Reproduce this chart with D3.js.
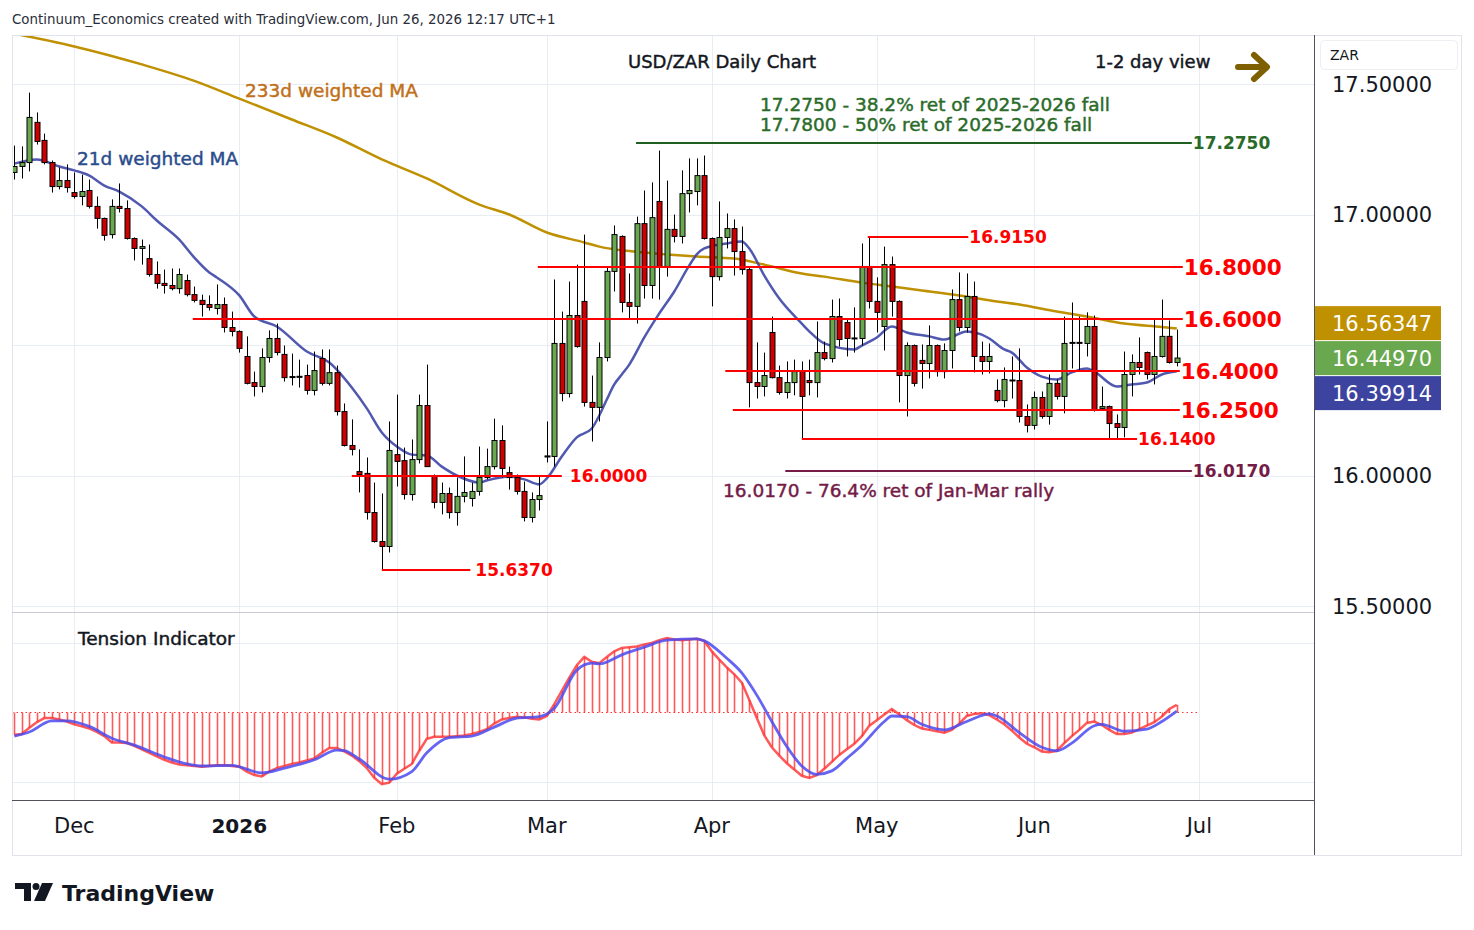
<!DOCTYPE html>
<html>
<head>
<meta charset="utf-8">
<script src="https://cdn.jsdelivr.net/npm/d3@7"></script>
<style>
    body { margin: 0; background: #ffffff; }
    text { font-family: "DejaVu Sans", sans-serif; }
    .heavy { stroke-width: 0.45px; paint-order: stroke; }
</style>
</head>
<body>
<div class="usdzar-chart"></div>
<script>
"use strict";

// trading days run from start_day, weekends and these holidays skipped
const start_day = "2025-11-19";
const end_day = "2026-07-04";
const holidays = ["2025-12-25", "2026-01-01"];

// daily candles: [open, high, low, close]
const candles = [
    [17.161,17.264,17.134,17.184],[17.184,17.261,17.138,17.199],[17.199,17.467,17.165,17.372],[17.353,17.391,17.268,17.280],
    [17.284,17.310,17.192,17.199],[17.199,17.207,17.084,17.107],[17.107,17.180,17.096,17.130],[17.130,17.192,17.084,17.103],
    // Dec
    [17.084,17.161,17.061,17.069],[17.069,17.153,17.035,17.088],[17.092,17.134,17.023,17.031],[17.031,17.069,16.946,16.985],
    [16.985,16.988,16.900,16.920],[16.923,17.058,16.908,17.031],[17.031,17.119,17.008,17.023],[17.023,17.054,16.904,16.908],
    [16.908,16.912,16.824,16.870],[16.870,16.904,16.808,16.877],[16.831,16.885,16.762,16.770],[16.770,16.820,16.716,16.736],
    [16.736,16.789,16.697,16.728],[16.728,16.793,16.709,16.716],[16.716,16.793,16.697,16.770],[16.747,16.770,16.686,16.693],
    [16.693,16.724,16.663,16.671],[16.671,16.693,16.609,16.655],[16.655,16.690,16.632,16.644],[16.640,16.732,16.617,16.655],
    [16.655,16.682,16.548,16.567],[16.567,16.628,16.533,16.552],
    // Jan
    [16.552,16.556,16.471,16.487],[16.456,16.533,16.349,16.353],[16.356,16.398,16.303,16.341],[16.341,16.487,16.318,16.452],
    [16.452,16.556,16.433,16.525],[16.525,16.582,16.460,16.471],[16.464,16.498,16.360,16.375],[16.379,16.467,16.345,16.377],
    [16.378,16.444,16.337,16.380],[16.383,16.425,16.310,16.326],[16.326,16.475,16.307,16.402],[16.448,16.483,16.345,16.353],
    [16.353,16.483,16.345,16.394],[16.394,16.421,16.230,16.245],[16.245,16.276,16.111,16.115],[16.115,16.215,16.077,16.100],
    [16.015,16.100,15.935,16.004],[16.008,16.069,15.831,15.858],[15.858,15.973,15.743,15.747],[15.747,15.931,15.637,15.728],
    [15.728,16.207,15.705,16.096],
    // Feb
    [16.080,16.310,15.958,16.054],[16.057,16.107,15.908,15.927],[15.927,16.138,15.904,16.061],[16.061,16.310,16.046,16.268],
    [16.268,16.425,16.034,16.034],[16.000,16.004,15.874,15.897],[15.897,15.973,15.851,15.931],[15.931,15.954,15.835,15.858],
    [15.858,15.992,15.808,15.920],[15.920,16.073,15.897,15.935],[15.912,15.973,15.881,15.939],[15.939,16.111,15.923,15.992],
    [15.992,16.103,15.985,16.034],[16.034,16.218,16.023,16.134],[16.134,16.192,15.992,16.027],[16.011,16.034,15.946,15.992],
    [15.992,16.004,15.927,15.939],[15.939,15.977,15.824,15.839],[15.839,15.935,15.820,15.908],[15.908,16.000,15.866,15.923],
    // Mar
    [16.071,16.207,16.050,16.075],[16.073,16.751,16.034,16.506],[16.506,16.628,16.284,16.314],[16.314,16.743,16.299,16.613],
    [16.613,16.808,16.490,16.494],[16.667,16.923,16.264,16.280],[16.280,16.383,16.130,16.261],[16.261,16.510,16.207,16.452],
    [16.452,16.797,16.437,16.782],[16.782,16.958,16.705,16.923],[16.916,16.920,16.625,16.663],[16.663,16.774,16.602,16.648],
    [16.648,16.992,16.582,16.965],[16.965,17.092,16.678,16.728],[16.728,17.123,16.678,16.988],[17.050,17.245,16.674,16.801],
    [16.801,17.130,16.762,16.943],[16.943,17.000,16.893,16.916],[16.916,17.169,16.889,17.080],[17.080,17.215,17.008,17.092],
    [17.088,17.215,17.035,17.149],[17.149,17.226,16.904,16.908],
    // Apr
    [16.908,16.912,16.648,16.762],[16.762,17.050,16.747,16.912],[16.912,17.004,16.870,16.946],[16.946,16.981,16.766,16.858],
    [16.858,16.954,16.770,16.789],[16.789,16.797,16.261,16.356],[16.356,16.510,16.295,16.341],[16.341,16.471,16.303,16.383],
    [16.548,16.609,16.372,16.375],[16.375,16.421,16.310,16.318],[16.318,16.437,16.295,16.356],[16.356,16.444,16.307,16.398],
    [16.398,16.437,16.140,16.303],[16.364,16.444,16.307,16.356],[16.356,16.590,16.299,16.471],[16.471,16.513,16.441,16.448],
    [16.448,16.674,16.433,16.609],[16.609,16.678,16.494,16.521],[16.586,16.598,16.456,16.525],[16.525,16.644,16.471,16.527],
    [16.525,16.889,16.498,16.801],[16.801,16.915,16.640,16.667],
    // May
    [16.667,16.759,16.548,16.625],[16.571,16.877,16.479,16.808],[16.808,16.839,16.609,16.667],[16.667,16.671,16.280,16.383],
    [16.383,16.510,16.226,16.498],[16.498,16.502,16.341,16.353],[16.441,16.502,16.333,16.429],[16.429,16.575,16.372,16.498],
    [16.498,16.502,16.379,16.398],[16.398,16.506,16.372,16.479],[16.479,16.713,16.410,16.674],[16.674,16.778,16.552,16.567],
    [16.567,16.774,16.548,16.686],[16.686,16.743,16.395,16.456],[16.456,16.513,16.387,16.437],[16.437,16.506,16.391,16.456],
    [16.326,16.368,16.280,16.287],[16.287,16.414,16.261,16.368],[16.364,16.456,16.295,16.366],[16.364,16.487,16.203,16.226],
    [16.226,16.272,16.165,16.192],
    // Jun
    [16.192,16.322,16.176,16.299],[16.299,16.322,16.218,16.226],[16.226,16.387,16.195,16.353],[16.353,16.368,16.291,16.303],
    [16.303,16.609,16.238,16.506],[16.508,16.663,16.410,16.510],[16.510,16.609,16.402,16.508],[16.506,16.625,16.456,16.571],
    [16.571,16.613,16.245,16.249],[16.257,16.341,16.249,16.264],[16.264,16.268,16.140,16.199],[16.199,16.234,16.140,16.184],
    [16.184,16.475,16.146,16.387],[16.387,16.464,16.303,16.433],[16.433,16.529,16.387,16.414],[16.471,16.475,16.368,16.387],
    [16.387,16.598,16.349,16.456],[16.456,16.674,16.452,16.533],[16.533,16.594,16.429,16.433],[16.433,16.559,16.418,16.450]
];

// moving averages: [bar index, value]
const wma21 = [
    [0,17.195],[3,17.211],[6,17.184],[8,17.169],[10,17.149],[12,17.111],[14,17.088],[17,17.031],[19,16.977],[22,16.904],
    [24,16.835],[26,16.778],[27,16.759],[30,16.690],[32,16.609],[35,16.571],[39,16.475],[42,16.433],[45,16.337],[47,16.257],
    [49,16.165],[51,16.111],[53,16.080],[55,16.077],[57,16.034],[59,16.000],[62,15.973],[63,15.981],[66,15.996],[68,15.985],
    [70,15.966],[71,15.989],[73,16.073],[75,16.146],[77,16.180],[78,16.230],[79,16.291],[80,16.349],[81,16.387],[82,16.425],
    [84,16.529],[86,16.621],[88,16.705],[90,16.805],[91,16.847],[92,16.870],[95,16.889],[97,16.897],[98,16.870],[100,16.766],
    [102,16.678],[105,16.582],[106,16.552],[108,16.506],[112,16.483],[113,16.498],[115,16.529],[117,16.571],[119,16.548],[122,16.533],
    [124,16.521],[127,16.552],[129,16.540],[130,16.525],[132,16.483],[133,16.471],[135,16.414],[137,16.379],[139,16.368],[141,16.395],
    [143,16.410],[144,16.398],[147,16.341],[149,16.349],[151,16.356],[153,16.387],[155,16.399]
];
const wma233 = [
    [0,17.693],[8,17.644],[17,17.575],[24,17.512],[30,17.444],[37,17.364],[43,17.295],[49,17.211],[55,17.138],[62,17.038],
    [66,17.000],[71,16.931],[76,16.893],[78,16.877],[83,16.857],[87,16.847],[91,16.839],[96,16.831],[100,16.808],[105,16.774],
    [108,16.762],[113,16.739],[117,16.724],[121,16.709],[126,16.690],[131,16.667],[134,16.655],[139,16.628],[143,16.609],[148,16.582],
    [153,16.569],[155,16.563]
];

// tension indicator: fast line one value per bar, slow line as [bar index, value]
const tension_fast = [
    -0.32,-0.31,-0.22,-0.14,-0.08,-0.08,-0.10,-0.13,-0.17,-0.20,
    -0.23,-0.28,-0.34,-0.43,-0.43,-0.44,-0.48,-0.53,-0.58,-0.63,
    -0.68,-0.72,-0.75,-0.76,-0.77,-0.78,-0.77,-0.76,-0.76,-0.77,
    -0.78,-0.85,-0.90,-0.92,-0.85,-0.80,-0.77,-0.74,-0.72,-0.69,
    -0.66,-0.58,-0.51,-0.51,-0.56,-0.62,-0.70,-0.80,-0.94,-1.03,
    -1.01,-0.88,-0.81,-0.74,-0.55,-0.38,-0.35,-0.35,-0.35,-0.34,
    -0.33,-0.31,-0.28,-0.24,-0.16,-0.10,-0.08,-0.06,-0.07,-0.09,
    -0.10,-0.05,0.12,0.31,0.50,0.68,0.80,0.73,0.71,0.80,
    0.88,0.93,0.94,0.95,0.98,1.00,1.04,1.07,1.05,1.04,
    1.05,1.06,1.03,0.88,0.76,0.65,0.55,0.43,0.18,-0.08,
    -0.33,-0.50,-0.62,-0.73,-0.82,-0.91,-0.94,-0.90,-0.81,-0.71,
    -0.61,-0.53,-0.45,-0.34,-0.19,-0.11,-0.03,0.05,-0.03,-0.11,
    -0.18,-0.23,-0.25,-0.27,-0.29,-0.25,-0.16,-0.05,-0.02,-0.01,
    -0.04,-0.10,-0.17,-0.26,-0.36,-0.45,-0.50,-0.56,-0.57,-0.55,
    -0.44,-0.34,-0.25,-0.15,-0.13,-0.18,-0.25,-0.31,-0.31,-0.29,
    -0.24,-0.19,-0.14,-0.06,0.05,0.11
];
const tension_slow = [
    [0,-0.34],[2,-0.28],[5,-0.12],[7,-0.12],[10,-0.20],[13,-0.37],[16,-0.47],[20,-0.64],[23,-0.74],[25,-0.77],
    [29,-0.76],[33,-0.87],[36,-0.80],[40,-0.68],[43,-0.54],[44,-0.55],[46,-0.67],[50,-0.96],[53,-0.85],[55,-0.58],
    [58,-0.36],[61,-0.34],[64,-0.21],[67,-0.08],[70,-0.06],[72,0.06],[75,0.61],[77,0.71],[78,0.70],[81,0.83],
    [84,0.94],[87,1.04],[91,1.06],[92,1.03],[95,0.78],[97,0.57],[99,0.25],[101,-0.13],[103,-0.49],[105,-0.77],
    [107,-0.89],[109,-0.84],[111,-0.66],[113,-0.47],[116,-0.13],[117,-0.05],[119,-0.06],[121,-0.17],[124,-0.25],[127,-0.13],
    [130,-0.02],[131,-0.05],[134,-0.29],[137,-0.50],[139,-0.55],[141,-0.44],[144,-0.19],[145,-0.17],[148,-0.27],[151,-0.24],
    [153,-0.13],[155,0.02]
];

const price_ticks = [15.5, 16, 16.5, 17, 17.5];

// support / resistance lines: price, first and last bar index, label
const levels = [
    { price: 17.275, from: 82.9, to: 157.0, label: "17.2750", kind: "green" },
    { price: 16.915, from: 113.8, to: 127.2, label: "16.9150", kind: "red_small" },
    { price: 16.800, from: 69.8, to: 155.8, label: "16.8000", kind: "red" },
    { price: 16.600, from: 23.8, to: 155.8, label: "16.6000", kind: "red" },
    { price: 16.400, from: 94.8, to: 155.4, label: "16.4000", kind: "red" },
    { price: 16.250, from: 95.8, to: 155.4, label: "16.2500", kind: "red" },
    { price: 16.140, from: 105.0, to: 149.7, label: "16.1400", kind: "red_small" },
    { price: 16.017, from: 102.8, to: 157.0, label: "16.0170", kind: "purple" },
    { price: 16.000, from: 45.0, to: 73.0, label: "16.0000", kind: "red_small", gap: 8 },
    { price: 15.637, from: 49.0, to: 60.8, label: "15.6370", kind: "red_small", gap: 5 }
];

const last_values = [
    { name: "wma233", value: 16.56347 },
    { name: "close", value: 16.44970 },
    { name: "wma21", value: 16.39914 }
];

window.onload = () => main();

function main() {
    const width = 1474, height = 930;
    const pane = { left: 12, right: 1314, top: 35, price_bottom: 612, ind_bottom: 800, bottom: 855, outer_right: 1461 };
    const colors = {
        up: "#6aa84f", down: "#cc0000", grid: "#e8edf3",
        wma21: "#3d46a6", wma233: "#bf9000",
        fast: "#ff3030", slow: "#4a4af0"
    };
    const level_style = {
        green: { stroke: "#1f5f1f", fill: "#2a6b2a", size: 17, weight: "bold" },
        red_small: { stroke: "#ff0000", fill: "#ff0000", size: 17, weight: "bold" },
        red: { stroke: "#ff0000", fill: "#ff0000", size: 21.5, weight: "bold" },
        purple: { stroke: "#741b47", fill: "#741b47", size: 17, weight: "bold" }
    };
    const box_colors = { wma233: "#bf9000", close: "#6aa84f", wma21: "#3c44a0" };

    const parse = d3.utcParse("%Y-%m-%d");
    const fmt = d3.utcFormat("%Y-%m-%d");
    const days = d3.utcDay.range(parse(start_day), parse(end_day))
        .filter(d => d.getUTCDay() % 6 !== 0 && !holidays.includes(fmt(d)));

    const x = d3.scaleLinear().domain([0, candles.length - 1]).range([14.3, 1176.8]);
    const y = d3.scaleLinear().domain([15.5, 17.5]).range([606, 84]);
    const yi = d3.scaleLinear().domain([-1, 1]).range([782, 643]);

    const month_ticks = [];
    days.forEach((d, i) => {
        if (i > 0 && d.getUTCMonth() !== days[i - 1].getUTCMonth()) month_ticks.push({ i, date: d });
    });

    const svg = d3.select(".usdzar-chart")
        .append("svg")
        .attr("width", width)
        .attr("height", height);

    svg.append("rect").attr("width", width).attr("height", height).attr("fill", "#ffffff");

    const defs = svg.append("defs");
    defs.append("clipPath").attr("id", "price-clip")
        .append("rect")
        .attr("x", pane.left).attr("y", pane.top)
        .attr("width", pane.right - pane.left).attr("height", pane.price_bottom - pane.top);
    defs.append("clipPath").attr("id", "ind-clip")
        .append("rect")
        .attr("x", pane.left).attr("y", pane.price_bottom)
        .attr("width", pane.right - pane.left).attr("height", pane.ind_bottom - pane.price_bottom);

    // grid
    const grid = svg.append("g").attr("stroke", colors.grid).attr("stroke-width", 1);
    grid.selectAll(".vgrid")
        .data(month_ticks)
        .enter()
        .append("line")
        .attr("x1", d => Math.round(x(d.i)) + 0.5).attr("x2", d => Math.round(x(d.i)) + 0.5)
        .attr("y1", pane.top).attr("y2", pane.ind_bottom);
    grid.selectAll(".hgrid")
        .data(price_ticks)
        .enter()
        .append("line")
        .attr("x1", pane.left).attr("x2", pane.right)
        .attr("y1", d => Math.round(y(d)) + 0.5).attr("y2", d => Math.round(y(d)) + 0.5);
    grid.selectAll(".igrid")
        .data([-1, 1])
        .enter()
        .append("line")
        .attr("x1", pane.left).attr("x2", pane.right)
        .attr("y1", d => Math.round(yi(d)) + 0.5).attr("y2", d => Math.round(yi(d)) + 0.5);

    // price pane
    const price = svg.append("g").attr("clip-path", "url(#price-clip)");
    const ma_line = d3.line().x(d => x(d[0])).y(d => y(d[1])).curve(d3.curveMonotoneX);

    price.append("path")
        .attr("d", ma_line(wma233))
        .attr("fill", "none")
        .attr("stroke", colors.wma233)
        .attr("stroke-width", 2.5);
    price.append("path")
        .attr("d", ma_line(wma21))
        .attr("fill", "none")
        .attr("stroke", colors.wma21)
        .attr("stroke-opacity", 0.9)
        .attr("stroke-width", 2.5);

    const bars = price.selectAll(".candle")
        .data(candles)
        .enter()
        .append("g")
        .attr("class", "candle");
    bars.append("line")
        .attr("x1", (d, i) => Math.round(x(i)) + 0.5).attr("x2", (d, i) => Math.round(x(i)) + 0.5)
        .attr("y1", d => y(d[1])).attr("y2", d => y(d[2]))
        .attr("stroke", "#000000").attr("stroke-width", 1);
    bars.append("rect")
        .attr("x", (d, i) => Math.round(x(i)) - 2)
        .attr("width", 5)
        .attr("y", d => y(Math.max(d[0], d[3])))
        .attr("height", d => Math.max(1, Math.abs(y(d[0]) - y(d[3]))))
        .attr("fill", d => d[3] >= d[0] ? colors.up : colors.down)
        .attr("stroke", "#000000")
        .attr("stroke-width", 1);

    // level lines and their labels
    const lv = svg.append("g");
    lv.selectAll(".level")
        .data(levels)
        .enter()
        .append("g").each(function(d) {
            const st = level_style[d.kind];
            const yy = Math.round(y(d.price));
            d3.select(this).append("line")
                .attr("x1", x(d.from)).attr("x2", x(d.to))
                .attr("y1", yy).attr("y2", yy)
                .attr("stroke", st.stroke)
                .attr("stroke-width", d.kind === "green" || d.kind === "purple" ? 2 : 2.2);
            d3.select(this).append("text")
                .attr("x", x(d.to) + (d.gap || 1))
                .attr("y", yy)
                .attr("dy", "0.36em")
                .attr("fill", st.fill)
                .attr("font-size", st.size)
                .attr("font-weight", st.weight)
                .text(d.label);
        });

    // annotations
    const note = svg.append("g");
    const add_note = (tx, ty, size, color, label) => note.append("text")
        .attr("class", "heavy")
        .attr("x", tx).attr("y", ty)
        .attr("font-size", size)
        .attr("fill", color).attr("stroke", color)
        .text(label);
    note.append("text").attr("x", 12).attr("y", 24)
        .attr("font-size", 13.4).attr("fill", "#2a2e39")
        .text("Continuum_Economics created with TradingView.com, Jun 26, 2026 12:17 UTC+1");
    add_note(628, 68, 18, "#131722", "USD/ZAR Daily Chart");
    add_note(1095, 68, 18, "#131722", "1-2 day view");
    note.append("path")
        .attr("d", "M1238,67 L1266,67 M1254,55 L1267,67 L1254,79")
        .attr("fill", "none").attr("stroke", "#7f6000")
        .attr("stroke-width", 6).attr("stroke-linecap", "round").attr("stroke-linejoin", "round");
    add_note(760, 111, 18.5, "#2a6b2a", "17.2750 - 38.2% ret of 2025-2026 fall");
    add_note(760, 131, 18.5, "#2a6b2a", "17.7800 - 50% ret of 2025-2026 fall");
    add_note(723, y(16.017) + 26, 18.5, "#741b47", "16.0170 - 76.4% ret of Jan-Mar rally");
    add_note(245, 97, 18.5, "#c0701a", "233d weighted MA");
    add_note(77, 165, 18.5, "#2b4c8c", "21d weighted MA");
    add_note(78, 645, 18.5, "#131722", "Tension Indicator");

    // tension indicator pane
    const ind = svg.append("g").attr("clip-path", "url(#ind-clip)");
    ind.append("line")
        .attr("x1", pane.left).attr("x2", x(158))
        .attr("y1", yi(0)).attr("y2", yi(0))
        .attr("stroke", colors.fast).attr("stroke-width", 1.2)
        .attr("stroke-dasharray", "1.5,3");
    ind.selectAll(".hist")
        .data(tension_fast)
        .enter()
        .append("line")
        .attr("x1", (d, i) => Math.round(x(i)) + 0.5).attr("x2", (d, i) => Math.round(x(i)) + 0.5)
        .attr("y1", yi(0)).attr("y2", d => yi(d))
        .attr("stroke", colors.fast).attr("stroke-opacity", 0.8).attr("stroke-width", 1.6);
    ind.append("path")
        .attr("d", d3.line().x((d, i) => x(i)).y(d => yi(d))(tension_fast))
        .attr("fill", "none").attr("stroke", colors.fast)
        .attr("stroke-opacity", 0.8).attr("stroke-width", 2.5);
    ind.append("path")
        .attr("d", d3.line().x(d => x(d[0])).y(d => yi(d[1])).curve(d3.curveMonotoneX)(tension_slow))
        .attr("fill", "none").attr("stroke", colors.slow)
        .attr("stroke-opacity", 0.85).attr("stroke-width", 2.8);

    // frame
    const frame = svg.append("g").attr("fill", "none");
    frame.append("rect")
        .attr("x", pane.left + 0.5).attr("y", pane.top + 0.5)
        .attr("width", pane.outer_right - pane.left).attr("height", pane.bottom - pane.top)
        .attr("stroke", "#e0e3eb");
    frame.append("line")
        .attr("x1", pane.right + 0.5).attr("x2", pane.right + 0.5)
        .attr("y1", pane.top).attr("y2", pane.bottom)
        .attr("stroke", "#50535e");
    frame.append("line")
        .attr("x1", pane.left).attr("x2", pane.right)
        .attr("y1", pane.price_bottom + 0.5).attr("y2", pane.price_bottom + 0.5)
        .attr("stroke", "#c9ccd4");
    frame.append("line")
        .attr("x1", pane.left).attr("x2", pane.right)
        .attr("y1", pane.ind_bottom + 0.5).attr("y2", pane.ind_bottom + 0.5)
        .attr("stroke", "#50535e");

    // time axis
    svg.append("g").selectAll("text")
        .data(month_ticks)
        .enter()
        .append("text")
        .attr("x", d => x(d.i))
        .attr("y", 833)
        .attr("text-anchor", "middle")
        .attr("font-size", d => d.date.getUTCMonth() === 0 ? 20 : 21)
        .attr("font-weight", d => d.date.getUTCMonth() === 0 ? "bold" : "normal")
        .attr("fill", "#131722")
        .text(d => d.date.getUTCMonth() === 0 ? d3.utcFormat("%Y")(d.date) : d3.utcFormat("%b")(d.date));

    // last value boxes, kept apart around the close
    const close_y = y(last_values[1].value);
    const box_y = {
        wma233: Math.min(y(last_values[0].value), close_y - 35),
        close: close_y,
        wma21: Math.max(y(last_values[2].value), close_y + 35)
    };
    const box_list = Object.values(box_y);

    // price axis, tick labels hidden where a value box sits
    const axis = svg.append("g");
    axis.append("rect")
        .attr("x", 1320.5).attr("y", 40.5).attr("width", 137).attr("height", 29).attr("rx", 4)
        .attr("fill", "#ffffff").attr("stroke", "#eceef2");
    axis.append("text").attr("x", 1330).attr("y", 60)
        .attr("font-size", 14).attr("fill", "#131722").text("ZAR");
    axis.selectAll(".ptick")
        .data(price_ticks.filter(t => box_list.every(b => Math.abs(y(t) - b) > 30)))
        .enter()
        .append("text")
        .attr("x", 1332)
        .attr("y", d => y(d))
        .attr("dy", "0.36em")
        .attr("font-size", 21)
        .attr("fill", "#131722")
        .text(d => d.toFixed(5));

    const boxes = axis.selectAll(".box")
        .data(last_values)
        .enter()
        .append("g");
    boxes.append("rect")
        .attr("x", pane.right + 1).attr("width", 1441 - pane.right - 1)
        .attr("y", d => box_y[d.name] - 17).attr("height", 34)
        .attr("fill", d => box_colors[d.name]);
    boxes.append("text")
        .attr("x", 1332)
        .attr("y", d => box_y[d.name])
        .attr("dy", "0.36em")
        .attr("font-size", 21)
        .attr("fill", "#ffffff")
        .text(d => d.value.toFixed(5));

    // TradingView logo
    const logo = svg.append("g").attr("fill", "#131722");
    logo.append("path").attr("d", "M15,883 H31 V901 H24 V889 H15 Z");
    logo.append("circle").attr("cx", 36).attr("cy", 886.5).attr("r", 3.5);
    logo.append("path").attr("d", "M42,883 H53 L45,901 H34 Z");
    logo.append("text").attr("x", 62).attr("y", 901)
        .attr("font-family", "Inter, sans-serif")
        .attr("font-size", 22).attr("font-weight", "bold")
        .text("TradingView");
}
</script>
</body>
</html>
